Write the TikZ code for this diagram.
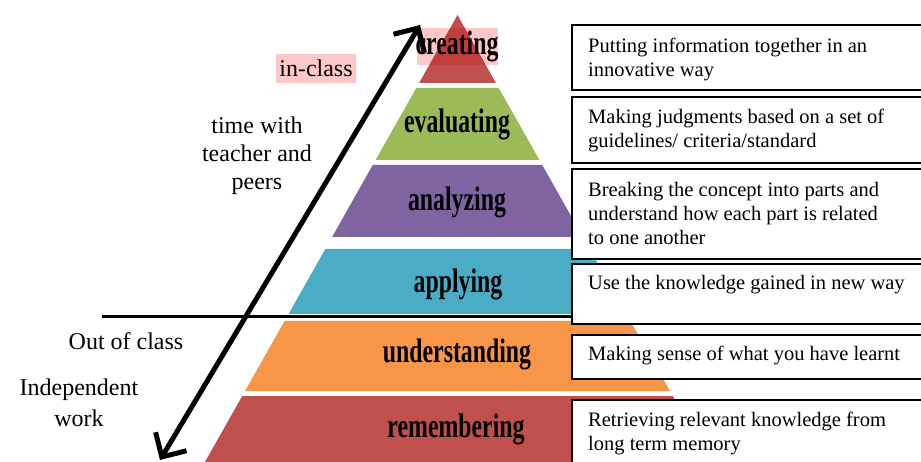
\documentclass[tikz,border=0pt]{standalone}
\usepackage{fontspec}
\setmainfont{Liberation Serif}
\newfontfamily\lvlfont[FakeStretch=0.7]{Liberation Serif}
\usetikzlibrary{arrows.meta}

\definecolor{lvlred}{HTML}{C0504D}
\definecolor{lvlgreen}{HTML}{9BBB59}
\definecolor{lvlpurple}{HTML}{8064A2}
\definecolor{lvlblue}{HTML}{4BACC6}
\definecolor{lvlorange}{HTML}{F79646}
\definecolor{hlpink}{HTML}{FFC8C8}

\tikzset{
  lvl/.style={font=\lvlfont\bfseries\fontsize{34}{34}\selectfont, inner sep=0pt},
  descbox/.style={draw=black, line width=1.8pt, fill=white, anchor=north west,
    minimum width=370pt, inner sep=0pt},
  desc/.style={anchor=west, align=left, inner sep=0pt,
    font=\fontsize{20.5}{24}\selectfont},
  side/.style={align=center, inner sep=0pt, font=\fontsize{24}{28}\selectfont},
  bigarrow/.style={line width=5pt,
    {Straight Barb[length=18pt,width=36pt]}-{Straight Barb[length=18pt,width=36pt]}}
}

\begin{document}
\begin{tikzpicture}[x=1pt,y=-1pt]
\useasboundingbox (0,0) rectangle (921,462);
\clip (0,0) rectangle (921,462);

\foreach \yt/\yb/\col in {15/83/lvlred, 88/160/lvlgreen, 165/237/lvlpurple,
    249/314/lvlblue, 321/391/lvlorange, 396/470/lvlred}{
  \pgfmathsetmacro\wt{0.565*(\yt-15)}
  \pgfmathsetmacro\wb{0.565*(\yb-15)}
  \fill[\col] (457.5-\wt,\yt) -- (457.5+\wt,\yt) -- (457.5+\wb,\yb) -- (457.5-\wb,\yb) -- cycle;
}

\coordinate (cutL) at (102,317);
\coordinate (cutR) at (921,317);
\draw[line width=3pt] (cutL) -- (cutR);

\foreach \yt/\yb/\ty/\txt [count=\i] in {
    24/89/59/{Putting information together in an\\innovative way},
    96/162/130/{Making judgments based on a set of\\guidelines/ criteria/standard},
    168/258/213.5/{Breaking the concept into parts and\\understand how each part is related\\to one another},
    263/323/285/{Use the knowledge gained in new way},
    334/378/355/{Making sense of what you have learnt},
    399/480/433.5/{Retrieving relevant knowledge from\\long term memory}}{
  \node[descbox, minimum height=\yb-\yt] (box\i) at (571,\yt) {};
  \node[desc] (txt\i) at (588,\ty) {\txt};
}

\begin{scope}[blend mode=multiply]
  \fill[hlpink] (417,28) rectangle (498,65);
\end{scope}

\node[lvl] (creating) at (457,46) {creating};
\node[lvl] (evaluating) at (457,124) {evaluating};
\node[lvl] (analyzing) at (457,202) {analyzing};
\node[lvl] (applying) at (458,284) {applying};
\node[lvl] (understanding) at (457,354) {understanding};
\node[lvl] (remembering) at (456,429) {remembering};

\node[side, fill=hlpink, minimum width=80pt, minimum height=29pt] (inclass) at (316,68.5) {in-class};
\node[side] (withpeers) at (257,156) {time with\\teacher and\\peers};
\node[side] (outclass) at (126,341) {Out of class};
\node[side, font=\fontsize{24}{31}\selectfont] (indep) at (79,403) {Independent\\work};

\coordinate (low) at (160,460);
\coordinate (high) at (420,25);
\draw[bigarrow] (low) -- (high);
\end{tikzpicture}
\end{document}
